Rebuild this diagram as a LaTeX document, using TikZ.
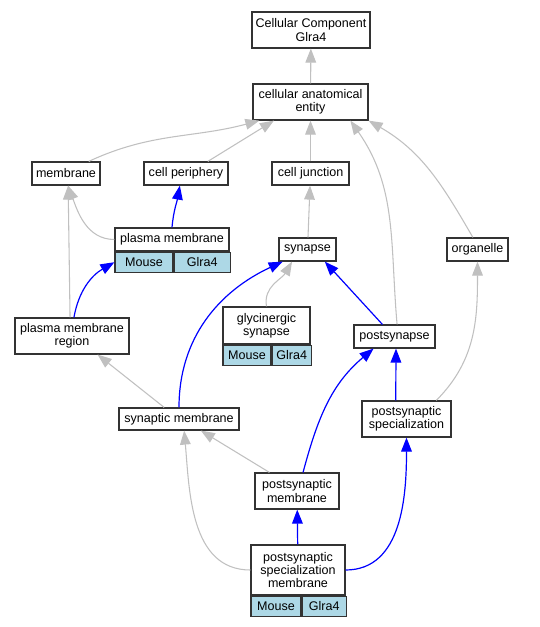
\documentclass[tikz,border=0pt]{standalone}
\usepackage{fontspec}
\setmainfont{Liberation Sans}
\usetikzlibrary{arrows.meta,positioning}
\definecolor{lblue}{HTML}{ADD8E6}
\definecolor{lgrey}{HTML}{C0C0C0}

\begin{document}
\begin{tikzpicture}[x=0.75pt,y=0.75pt,
	every node/.style={draw=black!80,line width=0.9pt,fill=white,inner sep=1pt,align=center,font=\fontsize{9.4}{10}\selectfont},
	cell/.style={fill=lblue,minimum height=20*0.75pt},
	isa/.style={draw=lgrey,line width=0.8pt,-{Triangle[length=10.5pt,width=8pt]}},
	part/.style={draw=blue,line width=0.9pt,-{Triangle[length=10.5pt,width=8pt]}}]
\useasboundingbox (0,0) rectangle (539,-627);

\foreach \n/\x/\y/\w/\h/\t in {cc/311/30/118/36/{Cellular Component\\Glra4},
	cae/310.5/102/115/36/{cellular anatomical\\entity},
	mem/66/173.5/68/23/membrane,cp/186/173.5/84/23/{cell periphery},
	cj/310.5/173.5/77/23/{cell junction},syn/307.5/249.5/57/23/synapse,
	org/477.5/249.5/61/23/organelle,pmr/72/336/114/36/{plasma membrane\\region},
	ps/394.5/336.5/81/23/postsynapse,sm/179/419/120/22/{synaptic membrane},
	psc/406.5/419/89/36/{postsynaptic\\specialization},
	pmem/297/491/84/36/{postsynaptic\\membrane},
	pm/172/239.5/114/23/{plasma membrane},gs/266.5/325.5/87/37/{glycinergic\\synapse},
	psm/298/570/94/50/{postsynaptic\\specialization\\membrane}}
	\node[minimum width=\w*0.75pt,minimum height=\h*0.75pt] (\n) at (\x,-\y) {\t};

% species / gene cells
\foreach \n/\wa/\wb in {pm/58/56,gs/48/39,psm/50/44}{
	\node[cell,minimum width=\wa*0.75pt,anchor=north west] (\n M) at (\n.south west) {Mouse};
	\node[cell,minimum width=\wb*0.75pt,anchor=north west] (\n G) at (\n M.north east) {Glra4};
}

% is_a
\foreach \a/\b in {cae/cc,cp.29/cae.207,cj/cae,syn/cj,sm.142/pmr.324,pmem.146/sm.332,pmr.96/mem.280}
	\draw[isa](\a)--(\b);
\foreach \a/\b/\o/\i in {mem.28/cae.200/25/195,ps.78/cae.335/95/305,org.111/cae.south east/120/330,
	pm.west/mem.280/180/290,gs.north/syn.218/100/240,psc.32/org.south/45/270,psm.west/sm.294/180/275}
	\draw[isa](\a)to[out=\o,in=\i](\b);

% part_of
\foreach \a/\b in {ps.135/syn.325,psc.120/ps.277,psm/pmem}
	\draw[part](\a)--(\b);
\foreach \a/\b/\o/\i in {pm.north/cp.243/85/260,pmr.84/pmM.west/80/210,sm.north/syn.206/90/205,
	pmem.72/ps.210/75/220,psm.east/psc.south/0/270}
	\draw[part](\a)to[out=\o,in=\i](\b);
\end{tikzpicture}
\end{document}
